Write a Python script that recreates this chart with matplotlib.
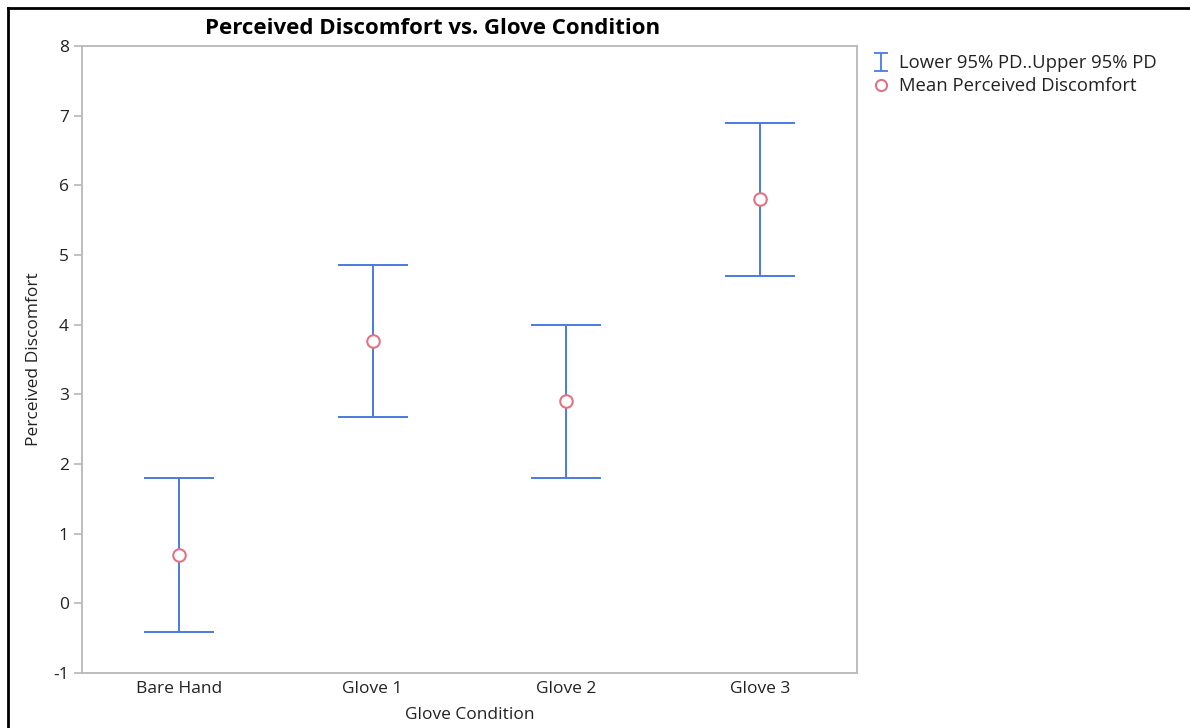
import matplotlib.pyplot as plt
from matplotlib.lines import Line2D
from matplotlib.path import Path
import numpy as np

plt.rcParams['font.family'] = ['Open Sans', 'DejaVu Sans']
plt.rcParams['axes.unicode_minus'] = False

conditions = ["Bare Hand", "Glove 1", "Glove 2", "Glove 3"]
mean_pd = [0.7, 3.77, 2.9, 5.8]
lower_pd = [-0.41, 2.67, 1.8, 4.7]
upper_pd = [1.8, 4.85, 4.0, 6.9]

blue = '#4a7be0'
pink = '#e27384'
gray = '#b8b8b8'
txt = '#222222'

fig = plt.figure(figsize=(11.9, 7.28), dpi=100)
ax = fig.add_axes([82 / 1190, 1 - 673 / 728, 775 / 1190, 627 / 728])

x = np.arange(len(conditions))
mean = np.array(mean_pd)
yerr = [mean - np.array(lower_pd), np.array(upper_pd) - mean]
ax.errorbar(x, mean, yerr=yerr, fmt='none', ecolor=blue, elinewidth=1.4,
            capsize=25, capthick=1.4, zorder=2)
ax.plot(x, mean, 'o', ms=9, mfc='white', mec=pink, mew=1.5, ls='none', zorder=3)

ax.set_xlim(-0.5, 3.5)
ax.set_ylim(-1, 8)
ax.set_yticks(range(-1, 9))
ax.set_xticks(x, conditions)
ax.tick_params(axis='both', colors=gray, labelcolor=txt, labelsize=12.5,
               length=6, width=1.2)
ax.tick_params(axis='x', length=0, pad=6)
for s in ax.spines.values():
    s.set_color(gray)
    s.set_linewidth(1.3)

ax.set_xlabel('Glove Condition', fontsize=12.5, color=txt, labelpad=7)
ax.set_ylabel('Perceived Discomfort', fontsize=12.5, color=txt, labelpad=8)
fig.text(433 / 1190, 1 - 28 / 728, 'Perceived Discomfort vs. Glove Condition',
         fontsize=16, fontweight='bold', color='black', ha='center', va='center')

# "I" shaped glyph for the interval legend entry
ibeam = Path([(-0.8, -1), (0.8, -1), (0, -1), (0, 1), (-0.8, 1), (0.8, 1)],
             [Path.MOVETO, Path.LINETO, Path.MOVETO, Path.LINETO,
              Path.MOVETO, Path.LINETO])
handles = [
    Line2D([], [], marker=ibeam, ms=13, mfc='none', mec=blue, mew=1.3, ls='none'),
    Line2D([], [], marker='o', ms=8, mfc='white', mec=pink, mew=1.5, ls='none'),
]
fig.legend(handles, ['Lower 95% PD..Upper 95% PD', 'Mean Perceived Discomfort'],
           loc='upper left', bbox_to_anchor=(864 / 1190, 1 - 47 / 728),
           frameon=False, fontsize=13.3, handlelength=1.0,
           handletextpad=0.5, labelspacing=0.25, borderaxespad=0,
           labelcolor=txt)

# outer frame lines of the screenshot
fig.add_artist(Line2D([8 / 1190, 1], [1 - 8 / 728, 1 - 8 / 728],
                      transform=fig.transFigure, color='black', lw=2))
fig.add_artist(Line2D([8 / 1190, 8 / 1190], [0, 1 - 8 / 728],
                      transform=fig.transFigure, color='black', lw=2))

plt.savefig('out.png', dpi=100)
